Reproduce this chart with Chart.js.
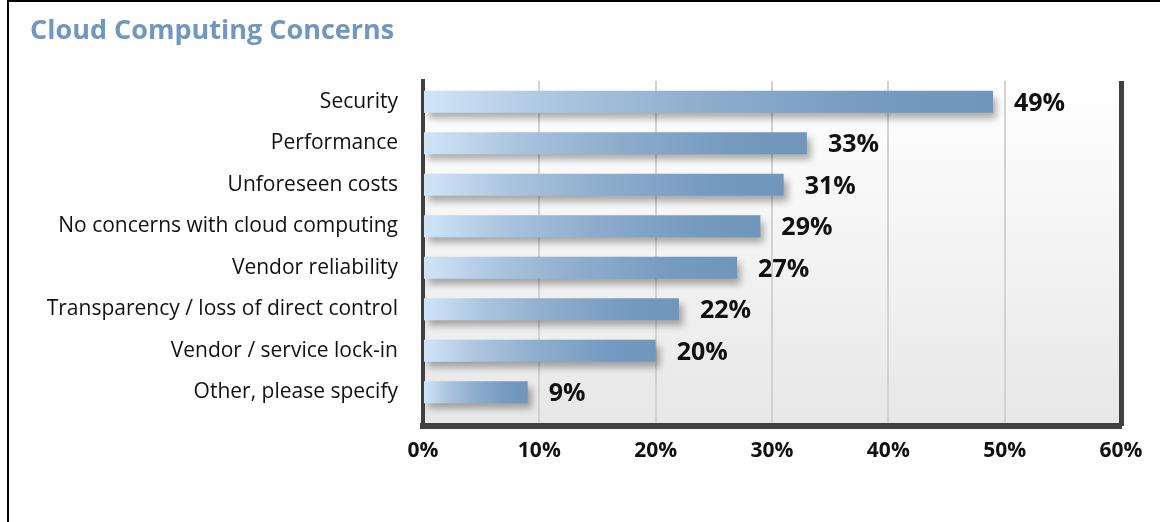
<!DOCTYPE html>
<html>
<head>
<meta charset="utf-8">
<title>Cloud Computing Concerns</title>
<script src="https://cdn.jsdelivr.net/npm/chart.js@4.4.1/dist/chart.umd.min.js"></script>
<style>
    html, body { margin: 0; padding: 0; background: #ffffff; }
    #marco {
        position: absolute; left: 7px; top: 0;
        width: 1153px; height: 522px;
        border-left: 2px solid #000; border-top: 2px solid #000;
        box-sizing: border-box;
    }
    #grafica { display: block; }
</style>
</head>
<body>
<div id="marco"><canvas id="grafica" width="1151" height="520"></canvas></div>
<script>
// Datos de la encuesta
const categorias = [
    "Security",
    "Performance",
    "Unforeseen costs",
    "No concerns with cloud computing",
    "Vendor reliability",
    "Transparency / loss of direct control",
    "Vendor / service lock-in",
    "Other, please specify"
];
const porcentajes = [49, 33, 31, 29, 27, 22, 20, 9];
const ejeMin = 0;
const ejeMax = 60;
const ejePaso = 10;

const colorTitulo = "#7097bf";
const colorEje = "#404040";

document.addEventListener("DOMContentLoaded", function () {
    const ctx = document.getElementById("grafica").getContext("2d");

    // Fondo degradado del area de trazado, sombra de barras y marco derecho
    const fondoPlugin = {
        id: "fondo",
        beforeDraw: function (chart) {
            const a = chart.chartArea;
            const c = chart.ctx;
            const g = c.createLinearGradient(0, a.top, 0, a.bottom);
            g.addColorStop(0, "#ffffff");
            g.addColorStop(1, "#e7e7e7");
            c.save();
            c.fillStyle = g;
            c.fillRect(a.left, a.top, a.right - a.left, a.bottom - a.top);
            c.restore();
        },
        beforeDatasetsDraw: function (chart) {
            const c = chart.ctx;
            c.save();
            c.shadowColor = "rgba(0, 0, 0, 0.32)";
            c.shadowBlur = 7;
            c.shadowOffsetX = 4;
            c.shadowOffsetY = 6;
        },
        afterDatasetsDraw: function (chart) {
            const c = chart.ctx;
            c.restore();

            const a = chart.chartArea;
            c.save();
            c.strokeStyle = colorEje;
            c.lineWidth = 5;
            c.beginPath();
            c.moveTo(a.right + 0.5, a.top);
            c.lineTo(a.right + 0.5, a.bottom);
            c.stroke();
            c.restore();

            // etiquetas de valor
            const meta = chart.getDatasetMeta(0);
            c.save();
            c.font = "bold 25px 'Open Sans'";
            c.fillStyle = "#111111";
            c.textAlign = "left";
            c.textBaseline = "middle";
            meta.data.forEach(function (barra, i) {
                c.fillText(porcentajes[i] + "%", barra.x + 21, barra.y + 2);
            });
            c.restore();
        }
    };

    function degradadoBarra(context) {
        const chart = context.chart;
        if (!chart.chartArea || context.parsed === undefined) {
            return "#7196bd";
        }
        const x0 = chart.scales.x.getPixelForValue(ejeMin);
        const x1 = chart.scales.x.getPixelForValue(context.parsed.x);
        const g = chart.ctx.createLinearGradient(x0, 0, x1, 0);
        g.addColorStop(0, "#d0e5f8");
        g.addColorStop(0.25, "#a9c3de");
        g.addColorStop(0.5, "#8dadcd");
        g.addColorStop(0.8, "#759ac0");
        g.addColorStop(1, "#7196bc");
        return g;
    }

    new Chart(ctx, {
        type: "bar",
        data: {
            labels: categorias,
            datasets: [{
                data: porcentajes,
                backgroundColor: degradadoBarra,
                borderWidth: 0,
                barPercentage: 0.53,
                categoryPercentage: 1
            }]
        },
        options: {
            indexAxis: "y",
            responsive: false,
            animation: false,
            layout: {
                padding: { left: 21, right: 39, top: 0, bottom: 46 }
            },
            plugins: {
                legend: { display: false },
                tooltip: { enabled: false },
                title: {
                    display: true,
                    text: "Cloud Computing Concerns",
                    align: "start",
                    color: colorTitulo,
                    font: { family: "'Open Sans'", size: 27, weight: "bold", lineHeight: 1.2 },
                    padding: { top: 13, bottom: 33.6 }
                }
            },
            scales: {
                x: {
                    min: ejeMin,
                    max: ejeMax,
                    ticks: {
                        stepSize: ejePaso,
                        padding: 12,
                        color: "#111111",
                        font: { family: "'Open Sans'", size: 21, weight: "bold" },
                        callback: function (v) { return v + "%"; }
                    },
                    grid: {
                        color: "#d2d2d2",
                        lineWidth: 2,
                        drawTicks: false
                    },
                    border: { color: colorEje, width: 6 },
                    afterFit: function (scale) { scale.height = 50; }
                },
                y: {
                    ticks: {
                        padding: 25,
                        color: "#111111",
                        font: { family: "'Open Sans'", size: 21 }
                    },
                    grid: { display: false, drawTicks: false },
                    border: { color: colorEje, width: 4 },
                    // deja un poco de aire bajo la ultima barra
                    afterBuildTicks: function (scale) { scale._valueRange += 0.31; },
                    afterFit: function (scale) { scale.width = 393; }
                }
            }
        },
        plugins: [fondoPlugin]
    });
});
</script>
</body>
</html>
